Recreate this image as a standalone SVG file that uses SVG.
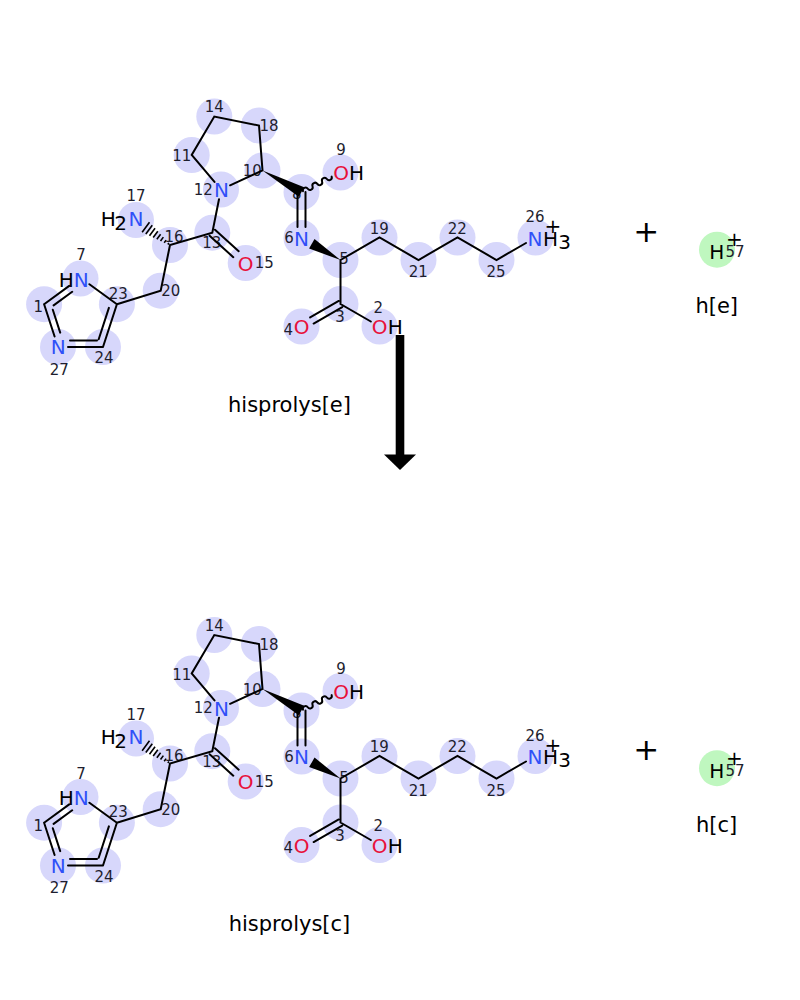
<svg xmlns="http://www.w3.org/2000/svg" xmlns:xlink="http://www.w3.org/1999/xlink" width="800" height="1000" viewBox="0 0 800 1000">
<style>
.bg{fill:#fff}
.hl{fill:#d7d7fb}
.hh{fill:#bff7bf}
.b{stroke:#000;stroke-width:2;fill:none;stroke-linecap:round}
.hs{stroke:#000;stroke-width:1.6;fill:none}
.w{fill:#000}
.t{font-family:'DejaVu Sans','Liberation Sans',sans-serif}
.lbl{font-size:20px;text-anchor:middle}
.N{fill:#3050f8}
.O{fill:#e8103a}
.K{fill:#000}
.idx{font-size:15px;text-anchor:middle;fill:#1e1e2e}
.name{font-size:21px;text-anchor:middle;fill:#000}
.plus{font-size:31px;text-anchor:middle;fill:#000}
</style>
<defs>
<g id="mol">
<g class="hl">
<circle cx="44.1" cy="304.2" r="18"/><circle cx="80.5" cy="278.5" r="18"/><circle cx="116.9" cy="304.2" r="18"/>
<circle cx="103" cy="347" r="18"/><circle cx="58" cy="347" r="18"/><circle cx="160.7" cy="290.7" r="18"/>
<circle cx="170" cy="245" r="18"/><circle cx="136" cy="220" r="18"/><circle cx="212.3" cy="232.7" r="18"/>
<circle cx="245.7" cy="263" r="18"/><circle cx="221" cy="189.5" r="18"/><circle cx="191.7" cy="155" r="18"/>
<circle cx="214.3" cy="116.5" r="18"/><circle cx="259" cy="125.5" r="18"/><circle cx="262.5" cy="170.5" r="18"/>
<circle cx="301.5" cy="192" r="18"/><circle cx="340.5" cy="172.5" r="18"/><circle cx="301.5" cy="238" r="18"/>
<circle cx="340.5" cy="260" r="18"/><circle cx="340.5" cy="304" r="18"/><circle cx="301.5" cy="326.5" r="18"/>
<circle cx="379.5" cy="326.5" r="18"/><circle cx="379.5" cy="237.5" r="18"/><circle cx="418.5" cy="260" r="18"/>
<circle cx="457.5" cy="237.5" r="18"/><circle cx="496.5" cy="260" r="18"/><circle cx="535.5" cy="237.5" r="18"/>
</g>
<g class="t idx">
<text x="214.3" y="112">14</text><text x="269" y="131.3">18</text><text x="181.7" y="161.3">11</text>
<text x="252.3" y="176.3">10</text><text x="203.3" y="194.6">12</text><text x="136" y="201.3">17</text>
<text x="174" y="242">16</text><text x="211.7" y="248.3">13</text><text x="264.3" y="268">15</text>
<text x="170.7" y="296.3">20</text><text x="118.3" y="298.6">23</text><text x="81" y="260.3">7</text>
<text x="38.3" y="312">1</text><text x="59.3" y="374.6">27</text><text x="104" y="363">24</text>
<text x="341" y="155.3">9</text><text x="296.7" y="199.3">8</text><text x="289" y="243">6</text>
<text x="344" y="264.3">5</text><text x="379.3" y="233.6">19</text><text x="418.3" y="277">21</text>
<text x="457.3" y="233.6">22</text><text x="496" y="277">25</text><text x="535" y="222">26</text>
<text x="340" y="322">3</text><text x="288.3" y="334.6">4</text><text x="378.3" y="312.6">2</text>
</g>
<path class="b" d="M44.1,304.2 L69.2,285.9 M53.6,305.4 L72.2,291.8 M44.1,304.2 L54.6,336.5 M52.8,309.8 L60.2,332.6 M68,347 L103,347 M70,340.5 L97,340.5 M103,347 L116.9,304.2 M98.7,339.3 L108.9,307.9 M89.4,284.2 L116.9,304.2 M116.9,304.2 L160.7,290.7 L170,245 L212.3,232.7 L219,199.3 M214.5,181.9 L191.7,155 L214.3,116.5 L259,125.5 L262.5,170.5 L230.1,185.3 M215,229.7 L238.7,251.2 M209.6,235.7 L233.3,257.2 M297.5,192 L297.5,227 M305.5,192 L305.5,227 M340.5,260 L379.5,237.5 L418.5,260 L457.5,237.5 L496.5,260 L526,243 M340.5,260 L340.5,304 L370.8,321.5 M338.75,300.97 L310.15,317.47 M342.25,307.03 L313.65,323.53"/>
<polygon class="w" points="262.5,170.5 298.84,196.82 304.16,187.18"/>
<polygon class="w" points="340.5,260 309.1,248.6 314.5,239"/>
<path class="hs" d="M168.92,243.09 L167.86,244.55 M166.13,240.13 L164.19,242.77 M163.36,237.15 L160.52,241.01 M160.59,234.16 L156.85,239.26 M157.81,231.18 L153.17,237.5 M155.04,228.21 L149.5,235.75 M152.26,225.23 L145.82,233.99 M149.49,222.24 L142.15,232.24"/>
<path class="b" stroke-width="1.6" d="M303,191.2 a2.7,2.7 0 0 1 4.77,-2.43 a2.7,2.7 0 0 0 4.77,-2.43 a2.7,2.7 0 0 1 4.77,-2.43 a2.7,2.7 0 0 0 4.77,-2.43 a2.7,2.7 0 0 1 4.77,-2.43 a2.7,2.7 0 0 0 4.77,-2.43"/>
<g class="t lbl">
<text class="K" x="108.3" y="225.6">H</text><text class="K" x="120.5" y="229.6">2</text><text class="N" x="136" y="225.6">N</text>
<text class="N" x="221.5" y="197.3">N</text>
<text class="O" x="245.7" y="270.6">O</text>
<text class="K" x="66.3" y="286.6">H</text><text class="N" x="81.3" y="286.6">N</text>
<text class="N" x="58.3" y="354">N</text>
<text class="O" x="341" y="180.3">O</text><text class="K" x="356.4" y="180.3">H</text>
<text class="N" x="301.6" y="245.6">N</text>
<text class="N" x="535" y="245.6">N</text><text class="K" x="550.5" y="245.6">H</text><text class="K" x="564.5" y="248.6">3</text>
<text class="K" x="553" y="233">+</text>
<text class="O" x="301.6" y="334">O</text>
<text class="O" x="379.7" y="334">O</text><text class="K" x="395.3" y="334">H</text>
</g>
</g>
<g id="hion">
<circle class="hh" cx="717" cy="249.7" r="18"/>
<text class="t idx" x="735" y="257">57</text>
<text class="t lbl K" x="716.7" y="259">H</text>
<text class="t lbl K" x="734.3" y="246.3">+</text>
</g>
</defs>
<rect class="bg" x="0" y="0" width="800" height="1000"/>
<g id="hisprolys_e">
<use href="#mol" xlink:href="#mol"/>
<text class="t name" x="289.5" y="412">hisprolys[e]</text>
</g>
<g id="h_e">
<use href="#hion" xlink:href="#hion"/>
<text class="t name" x="716.7" y="313.3">h[e]</text>
</g>
<g id="hisprolys_c" transform="translate(0,518.5)">
<use href="#mol" xlink:href="#mol"/>
<text class="t name" x="289.5" y="412">hisprolys[c]</text>
</g>
<g id="h_c" transform="translate(0,518.5)">
<use href="#hion" xlink:href="#hion"/>
<text class="t name" x="716.7" y="313.3">h[c]</text>
</g>
<g id="connectors">
<text class="t plus" x="646.3" y="241.5">+</text>
<text class="t plus" x="646.3" y="760">+</text>
<rect x="395.7" y="335" width="8.6" height="120" fill="#000"/>
<polygon points="384,454.5 416,454.5 400,470" fill="#000"/>
</g>
</svg>
